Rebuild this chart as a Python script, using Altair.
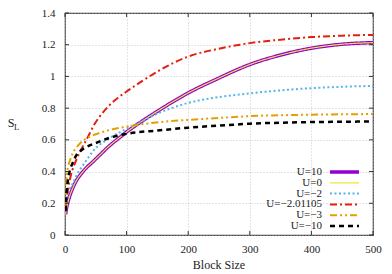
import altair as alt
import pandas as pd

FONT = "Liberation Serif, Times New Roman, serif"

labels = ["U=10", "U=0", "U=\u22122", "U=\u22122.01105", "U=\u22123", "U=\u221210"]
colors = ["#9400d3", "#f0e442", "#56b4e9", "#e51e10", "#e69f00", "#000000"]

x_u10 = [1, 2, 3, 5, 8, 12, 18, 25, 35, 42, 58, 70, 92, 100, 124, 154, 200, 250, 284, 300, 350, 400, 450, 500]
y_u10 = [0.13, 0.16, 0.18, 0.21, 0.25, 0.29, 0.34, 0.38, 0.425, 0.45, 0.51, 0.555, 0.625, 0.65, 0.715, 0.79, 0.896, 0.99, 1.05, 1.075, 1.135, 1.178, 1.203, 1.213]
x_u0 = x_u10
y_u0 = [0.13, 0.16, 0.18, 0.21, 0.25, 0.29, 0.34, 0.38, 0.425, 0.45, 0.51, 0.555, 0.625, 0.65, 0.715, 0.79, 0.896, 0.99, 1.05, 1.075, 1.135, 1.178, 1.203, 1.213]
x_um2 = [1, 3, 5, 8, 12, 20, 31, 48, 70, 100, 124, 154, 200, 250, 300, 350, 400, 450, 500]
y_um2 = [0.15, 0.22, 0.26, 0.29, 0.32, 0.385, 0.45, 0.54, 0.605, 0.67, 0.715, 0.772, 0.833, 0.87, 0.893, 0.912, 0.926, 0.935, 0.94]
x_ucr = [1, 3, 5, 8, 12, 18, 25, 32, 40, 48, 56, 70, 86, 100, 125, 154, 200, 250, 284, 300, 350, 400, 450, 500]
y_ucr = [0.16, 0.24, 0.29, 0.35, 0.41, 0.47, 0.53, 0.58, 0.64, 0.70, 0.745, 0.81, 0.865, 0.905, 0.97, 1.04, 1.125, 1.175, 1.2, 1.21, 1.232, 1.248, 1.257, 1.262]
x_um3 = [1, 2, 3, 5, 8, 12, 18, 25, 35, 50, 70, 100, 154, 200, 250, 284, 300, 350, 400, 450, 500]
y_um3 = [0.19, 0.30, 0.38, 0.43, 0.47, 0.51, 0.55, 0.58, 0.61, 0.635, 0.66, 0.683, 0.712, 0.726, 0.738, 0.746, 0.75, 0.755, 0.759, 0.761, 0.763]
x_um10 = [1, 2, 3, 5, 8, 12, 18, 25, 35, 50, 70, 100, 154, 200, 250, 284, 300, 350, 400, 450, 500]
y_um10 = [0.15, 0.24, 0.29, 0.35, 0.41, 0.45, 0.50, 0.53, 0.555, 0.58, 0.61, 0.638, 0.66, 0.677, 0.69, 0.698, 0.702, 0.708, 0.712, 0.714, 0.716]

x_ticks = [0, 100, 200, 300, 400, 500]
y_ticks = [0, 0.2, 0.4, 0.6, 0.8, 1.0, 1.2, 1.4]

series_x = [x_u10, x_u0, x_um2, x_ucr, x_um3, x_um10]
series_y = [y_u10, y_u0, y_um2, y_ucr, y_um3, y_um10]
widths = [3.5, 1.2, 2, 2, 2, 2.5]
dashes = [[1, 0], [1, 0], [2, 2.5], [7, 3, 2, 3], [7, 3, 2, 3, 2, 3], [5, 4]]

W, H = 308, 222
TOP = 5

xs = alt.Scale(domain=[0, 500], nice=False, zero=False)
ys = alt.Scale(domain=[0, 1.4], nice=False, zero=False)

def xaxis():
    return alt.Axis(values=x_ticks, ticks=False, domain=False, grid=True, gridDash=[1, 2],
                    gridColor="#bbbbbb", gridWidth=0.8, labelFont=FONT, labelFontSize=11,
                    labelColor="#222", labelPadding=8, title=None, labelOverlap=False,
                    labelFlush=False)

def yaxis():
    return alt.Axis(values=y_ticks, ticks=False, domain=False, grid=True, gridDash=[1, 2],
                    gridColor="#bbbbbb", gridWidth=0.8, labelFont=FONT, labelFontSize=11,
                    labelColor="#222", labelPadding=10, title=None, labelOverlap=False,
                    labelFlush=False, labelExpr="format(datum.value, '.1~f')")

layers = []
for i in range(len(labels)):
    df = pd.DataFrame({"x": series_x[i], "y": series_y[i]})
    layers.append(
        alt.Chart(df).mark_line(color=colors[i], strokeWidth=widths[i], strokeDash=dashes[i],
                                interpolate="monotone", clip=True)
        .encode(x=alt.X("x:Q", scale=xs, axis=xaxis()), y=alt.Y("y:Q", scale=ys, axis=yaxis()))
    )

xt = pd.DataFrame({"t": x_ticks})
yt = pd.DataFrame({"t": y_ticks})
tick_style = dict(color="#333", strokeWidth=1)
layers.append(alt.Chart(xt).mark_rule(**tick_style).encode(x=alt.X("t:Q", scale=xs, axis=xaxis()), y=alt.value(H), y2=alt.value(H - 4)))
layers.append(alt.Chart(xt).mark_rule(**tick_style).encode(x=alt.X("t:Q", scale=xs, axis=xaxis()), y=alt.value(0), y2=alt.value(4)))
layers.append(alt.Chart(yt).mark_rule(**tick_style).encode(y=alt.Y("t:Q", scale=ys, axis=yaxis()), x=alt.value(0), x2=alt.value(4)))
layers.append(alt.Chart(yt).mark_rule(**tick_style).encode(y=alt.Y("t:Q", scale=ys, axis=yaxis()), x=alt.value(W), x2=alt.value(W - 4)))

# legend (page rows ~172..226)
for i, lab in enumerate(labels):
    yy = (172 - 8 - TOP) + i * 10.8
    d = pd.DataFrame({"label": [lab]})
    layers.append(alt.Chart(d).mark_rule(color=colors[i], strokeWidth=widths[i], strokeDash=dashes[i])
                  .encode(x=alt.value(265), x2=alt.value(294), y=alt.value(yy)))
    layers.append(alt.Chart(d).mark_text(align="right", baseline="middle", font=FONT, fontSize=11, color="#222")
                  .encode(x=alt.value(257), y=alt.value(yy), text="label:N"))

# axis titles
layers.append(alt.Chart(pd.DataFrame({"t": ["Block Size"]})).mark_text(font=FONT, fontSize=12, color="#222", baseline="middle")
              .encode(x=alt.value(W / 2), y=alt.value(265 - 8 - TOP), text="t:N"))
layers.append(alt.Chart(pd.DataFrame({"t": ["S"]})).mark_text(font=FONT, fontSize=12, color="#222", baseline="middle")
              .encode(x=alt.value(-54), y=alt.value(123 - 8 - TOP), text="t:N"))
layers.append(alt.Chart(pd.DataFrame({"t": ["L"]})).mark_text(font=FONT, fontSize=8.5, color="#222", baseline="middle")
              .encode(x=alt.value(-48.5), y=alt.value(127 - 8 - TOP), text="t:N"))

chart = alt.layer(*layers).properties(
    width=W, height=H,
    autosize=alt.AutoSizeParams(type="none"),
    padding={"left": 57, "top": TOP, "right": 11, "bottom": 36},
).configure_view(stroke="#444", strokeWidth=1.2)

chart.save("out.html", embed_options={"renderer": "svg", "actions": False})
